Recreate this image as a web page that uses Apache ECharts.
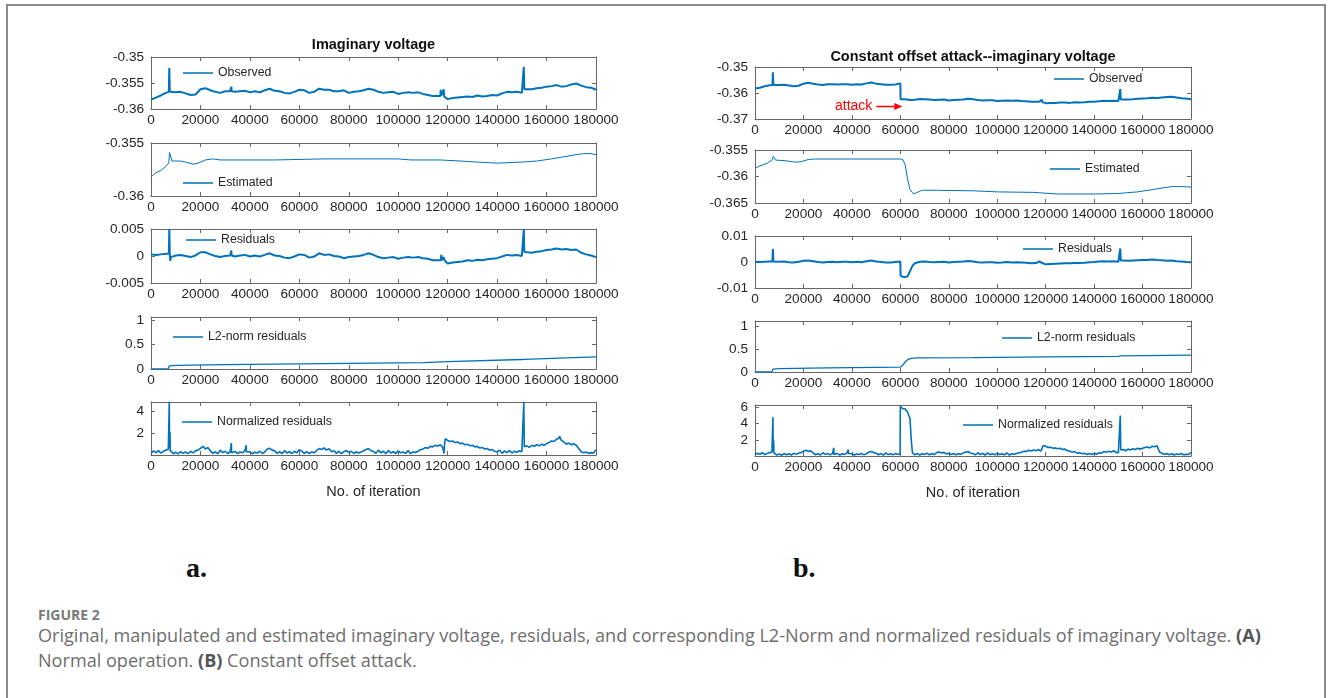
<!DOCTYPE html>
<html><head><meta charset="utf-8">
<script src="https://cdn.jsdelivr.net/npm/echarts@6/dist/echarts.min.js"></script>
<style>
html,body{margin:0;padding:0;background:#fff;width:1330px;height:698px;overflow:hidden;}
#frame{position:absolute;left:6px;top:4px;width:1320px;height:720px;border:2px solid #8c8c8c;border-bottom:none;box-sizing:border-box;}
#chart{position:absolute;left:0;top:0;width:1330px;height:540px;}
.tag{position:absolute;font-family:"Liberation Serif",serif;font-weight:bold;font-size:28px;line-height:28px;color:#111;}
#caphead{position:absolute;left:38px;top:605px;font-family:"Open Sans",Lato,sans-serif;font-weight:bold;font-size:14px;line-height:19px;color:#7a7a7a;}
#cap{position:absolute;left:38px;top:623px;font-family:"Open Sans",Lato,sans-serif;font-size:18.1px;line-height:25px;color:#6e6e6e;white-space:nowrap;}
#cap b{color:#555;}
</style></head>
<body>
<div id="chart"></div>
<div class="tag" style="left:186px;top:554px;">a.</div>
<div class="tag" style="left:793px;top:554px;">b.</div>
<div id="caphead">FIGURE 2</div>
<div id="cap">Original, manipulated and estimated imaginary voltage, residuals, and corresponding L2-Norm and normalized residuals of imaginary voltage. <b>(A)</b><br>Normal operation. <b>(B)</b> Constant offset attack.</div>
<div id="frame"></div>
<script>
// ---------------- DATA ----------------
const ITER_MAX = 180000;
const ITER_TICK = 20000;
const STEP_COARSE = 2000;   // spacing of the *_A / *_B coarse samples
const STEP_FINE = 1000;     // spacing of the normalized-residual samples

const TITLE_A = 'Imaginary voltage';
const TITLE_B = 'Constant offset attack--imaginary voltage';
const NAMES = ['Observed', 'Estimated', 'Residuals', 'L2-norm residuals', 'Normalized residuals'];

// Panel a: observed imaginary voltage (every 2000 iterations)
const observedA = [-0.3582,-0.3578,-0.3574,-0.3569,-0.3567,-0.3568,-0.3567,-0.3570,-0.3573,-0.3572,
 -0.3562,-0.3560,-0.3564,-0.3567,-0.3569,-0.3566,-0.3566,-0.3567,-0.3566,-0.3565,
 -0.3568,-0.3566,-0.3568,-0.3564,-0.3561,-0.3565,-0.3566,-0.3569,-0.3570,-0.3567,
 -0.3563,-0.3564,-0.3569,-0.3567,-0.3561,-0.3563,-0.3563,-0.3566,-0.3566,-0.3564,
 -0.3569,-0.3567,-0.3566,-0.3564,-0.3561,-0.3563,-0.3567,-0.3569,-0.3568,-0.3567,
 -0.3571,-0.3569,-0.3568,-0.3569,-0.3568,-0.3571,-0.3573,-0.3575,-0.3575,-0.3573,
 -0.3581,-0.3579,-0.3578,-0.3577,-0.3576,-0.3577,-0.3574,-0.3576,-0.3575,-0.3573,
 -0.3574,-0.3570,-0.3567,-0.3568,-0.3567,-0.3569,-0.3562,-0.3562,-0.3560,-0.3559,
 -0.3557,-0.3556,-0.3554,-0.3557,-0.3556,-0.3553,-0.3551,-0.3555,-0.3558,-0.3559,-0.3563];
const observedA_spikes = [[7200,-0.3567],[7400,-0.3521],[7600,-0.3567],
 [32400,-0.3566],[32500,-0.3557],[32600,-0.3566],
 [117000,-0.3575],[117200,-0.3563],[117400,-0.3575],[118200,-0.3574],[118400,-0.3562],[118600,-0.3576],
 [150600,-0.3569],[150800,-0.3519],[151000,-0.3562]];

const estimatedA = [[0,-0.3582],[2000,-0.3578],[4000,-0.3576],[6000,-0.3572],[7200,-0.3569],[7500,-0.3559],[8500,-0.3567],
 [12000,-0.3567],[14000,-0.3568],[17000,-0.3570],[19000,-0.3569],[22000,-0.3566],[25000,-0.3565],[28000,-0.3566],
 [50000,-0.3566],[70000,-0.3565],[100000,-0.3565],[105000,-0.3566],[117000,-0.3566],[125000,-0.3567],[132000,-0.3568],
 [140000,-0.3569],[150000,-0.3568],[156000,-0.3567],[162000,-0.3565],[167000,-0.3563],[172000,-0.3561],[175000,-0.3560],
 [178000,-0.3560],[180000,-0.3561]];

const residualsA = [0.0003,0.0002,0.0003,0.0004,-0.0002,0.0001,0.0002,0.0000,-0.0002,0.0001,
 0.0007,0.0007,0.0003,0.0000,-0.0002,0.0000,0.0001,-0.0001,0.0001,0.0002,
 -0.0001,0.0001,-0.0001,0.0002,0.0005,0.0001,0.0000,-0.0003,-0.0004,-0.0001,
 0.0003,0.0002,-0.0003,-0.0001,0.0005,0.0002,0.0003,0.0000,-0.0001,-0.0004,
 -0.0002,-0.0001,0.0000,0.0002,0.0005,0.0002,-0.0002,-0.0004,-0.0003,-0.0002,
 -0.0005,-0.0003,-0.0002,-0.0003,-0.0002,-0.0004,-0.0005,-0.0008,-0.0008,-0.0006,
 -0.0014,-0.0012,-0.0011,-0.0010,-0.0008,-0.0009,-0.0007,-0.0008,-0.0006,-0.0005,
 -0.0004,-0.0001,0.0002,0.0001,0.0002,0.0000,0.0007,0.0006,0.0008,0.0009,
 0.0011,0.0012,0.0014,0.0012,0.0013,0.0011,0.0012,0.0006,0.0003,0.0001,-0.0002];
const residualsA_spikes = [[7200,0.0004],[7400,0.0050],[7600,0.0004],[7800,-0.0009],
 [32400,0.0001],[32500,0.0010],[32600,0.0001],
 [117200,-0.0008],[117400,0.0002],[117600,-0.0008],[118400,-0.0002],[118600,-0.0007],
 [150600,0.0000],[150800,0.0050],[151000,0.0008]];

const l2normA = [[0,0],[3000,0.003],[7000,0.008],[7400,0.065],[10000,0.075],[30000,0.092],[60000,0.105],[90000,0.12],
 [110000,0.13],[120000,0.15],[150000,0.195],[151000,0.2],[165000,0.225],[180000,0.25]];

const normalizedA = [0.15,0.38,0.22,0.41,0.18,0.33,0.46,0.52,0.30,0.12,
 0.25,0.10,0.32,0.15,0.28,0.12,0.35,0.20,0.38,0.45,
 0.62,0.80,0.55,0.70,0.38,0.15,0.30,0.12,0.45,0.22,
 0.35,0.14,0.30,0.18,0.33,0.12,0.28,0.20,0.40,0.15,
 0.30,0.12,0.26,0.18,0.35,0.14,0.28,0.55,0.62,0.45,
 0.38,0.15,0.32,0.12,0.40,0.18,0.30,0.14,0.35,0.20,
 0.48,0.36,0.15,0.32,0.12,0.28,0.20,0.42,0.60,0.50,
 0.65,0.45,0.58,0.30,0.40,0.15,0.35,0.12,0.30,0.42,
 0.22,0.35,0.14,0.30,0.18,0.28,0.40,0.52,0.58,0.40,
 0.32,0.15,0.45,0.20,0.35,0.12,0.42,0.18,0.30,0.14,
 0.38,0.20,0.28,0.15,0.42,0.12,0.30,0.22,0.35,0.48,
 0.55,0.70,0.62,0.80,0.75,0.90,0.82,0.95,0.70,1.50,
 1.35,1.25,1.30,1.15,1.20,1.05,1.10,0.95,1.00,0.85,
 0.90,0.75,0.80,0.65,0.70,0.55,0.60,0.45,0.50,0.35,
 0.28,0.45,0.15,0.38,0.22,0.42,0.18,0.35,0.25,0.40,
 0.30,0.75,0.85,0.70,0.90,0.80,0.95,0.85,1.00,0.90,
 1.05,1.15,1.30,1.25,1.45,1.55,1.35,1.20,1.00,1.10,
 0.95,1.05,0.90,0.60,0.30,0.20,0.28,0.15,0.22,0.18,
 0.50];
const normalizedA_spikes = [[7200,0.6],[7400,4.9],[7500,0.7],[7700,2.1],[7800,0.4],
 [32400,0.3],[32500,1.1],[32600,0.2],[38400,0.4],[38500,0.9],[38600,0.3],
 [118400,0.7],[118500,0.15],[118700,0.9],
 [150600,0.3],[150800,4.9],[151000,0.8],[165200,1.75]];

// Panel b: constant offset attack
const observedB = [-0.3583,-0.3580,-0.3574,-0.3570,-0.3569,-0.3569,-0.3568,-0.3571,-0.3574,-0.3572,
 -0.3564,-0.3561,-0.3564,-0.3567,-0.3569,-0.3566,-0.3566,-0.3567,-0.3566,-0.3566,
 -0.3568,-0.3566,-0.3567,-0.3563,-0.3560,-0.3564,-0.3566,-0.3568,-0.3568,-0.3567,
 -0.3563,-0.3624,-0.3627,-0.3626,-0.3623,-0.3624,-0.3625,-0.3627,-0.3626,-0.3625,
 -0.3629,-0.3627,-0.3626,-0.3625,-0.3622,-0.3624,-0.3627,-0.3629,-0.3628,-0.3628,
 -0.3631,-0.3630,-0.3629,-0.3630,-0.3629,-0.3631,-0.3632,-0.3634,-0.3634,-0.3633,
 -0.3639,-0.3638,-0.3638,-0.3637,-0.3637,-0.3638,-0.3636,-0.3637,-0.3636,-0.3634,
 -0.3634,-0.3632,-0.3630,-0.3631,-0.3630,-0.3631,-0.3625,-0.3625,-0.3624,-0.3622,
 -0.3621,-0.3620,-0.3618,-0.3619,-0.3617,-0.3615,-0.3614,-0.3617,-0.3620,-0.3621,-0.3624];
const observedB_spikes = [[7200,-0.3569],[7400,-0.3520],[7600,-0.3569],
 [32400,-0.3566],[32500,-0.3559],[32600,-0.3566],[60100,-0.3624],
 [117200,-0.3634],[117400,-0.3627],[117600,-0.3634],[118400,-0.3626],[118600,-0.3635],
 [150600,-0.3631],[150800,-0.3585],[151000,-0.3625]];

const estimatedB = [[0,-0.3584],[2000,-0.3580],[5000,-0.3575],[7200,-0.3568],[7500,-0.3562],[8500,-0.3569],[12000,-0.3570],
 [17000,-0.3573],[19000,-0.3572],[22000,-0.3568],[25000,-0.3567],[40000,-0.3567],[60000,-0.3567],[61000,-0.3568],
 [62000,-0.3578],[63000,-0.3605],[64000,-0.3625],[65500,-0.3633],[67000,-0.3630],[69000,-0.3626],[75000,-0.3626],
 [90000,-0.3627],[100000,-0.3629],[115000,-0.3630],[125000,-0.3633],[140000,-0.3633],[150000,-0.3632],
 [158000,-0.3629],[165000,-0.3624],[172000,-0.3619],[176000,-0.3619],[180000,-0.3620]];

const residualsB = [0.0001,0.0000,0.0001,0.0002,-0.0002,0.0001,0.0002,-0.0001,-0.0002,0.0001,
 0.0005,0.0006,0.0003,0.0000,-0.0002,0.0000,0.0001,-0.0001,0.0001,0.0001,
 -0.0001,0.0001,-0.0001,0.0003,0.0006,0.0002,0.0000,-0.0002,-0.0002,0.0000,
 0.0002,-0.0058,-0.0035,-0.0005,0.0001,0.0002,0.0000,-0.0001,0.0000,0.0001,
 -0.0002,0.0000,0.0001,0.0002,0.0004,0.0002,-0.0001,-0.0002,-0.0001,-0.0001,
 -0.0003,-0.0002,0.0000,-0.0002,-0.0001,-0.0002,-0.0003,-0.0005,-0.0004,-0.0004,
 -0.0009,-0.0008,-0.0007,-0.0006,-0.0005,-0.0005,-0.0004,-0.0004,-0.0003,-0.0001,
 0.0000,0.0002,0.0003,0.0002,0.0003,0.0001,0.0006,0.0005,0.0006,0.0007,
 0.0008,0.0008,0.0010,0.0008,0.0007,0.0005,0.0006,0.0003,0.0002,0.0000,-0.0001];
const residualsB_spikes = [[7200,0.0002],[7400,0.0050],[7600,0.0002],[7800,-0.0004],
 [60100,-0.0052],[61000,-0.0057],[63000,-0.0055],[65000,-0.0015],
 [117400,0.0002],[117600,-0.0004],[118400,-0.0003],[118600,-0.0010],
 [150600,0.0001],[150800,0.0052],[151000,0.0006]];

const l2normB = [[0,0],[3000,0.003],[7000,0.008],[7400,0.065],[10000,0.075],[30000,0.09],[60000,0.105],[61000,0.15],
 [62000,0.22],[63000,0.27],[64500,0.3],[67000,0.31],[90000,0.315],[120000,0.33],[150000,0.345],[151000,0.352],[180000,0.37]];

const normalizedB = [0.15,0.35,0.20,0.40,0.18,0.30,0.42,0.48,0.30,0.12,
 0.25,0.10,0.30,0.15,0.28,0.12,0.33,0.20,0.36,0.42,
 0.58,0.72,0.55,0.65,0.35,0.15,0.30,0.12,0.40,0.20,
 0.32,0.14,0.30,0.18,0.30,0.12,0.28,0.20,0.36,0.15,
 0.28,0.12,0.25,0.18,0.32,0.14,0.28,0.50,0.55,0.42,
 0.35,0.15,0.30,0.12,0.38,0.18,0.28,0.14,0.32,0.20,
 6.10,5.85,5.80,5.40,4.60,0.40,0.15,0.30,0.12,0.28,
 0.20,0.35,0.14,0.30,0.18,0.42,0.50,0.38,0.45,0.25,
 0.35,0.18,0.30,0.15,0.28,0.20,0.38,0.48,0.52,0.35,
 0.30,0.14,0.40,0.18,0.32,0.12,0.38,0.16,0.28,0.14,
 0.35,0.18,0.26,0.14,0.38,0.12,0.28,0.20,0.32,0.40,
 0.45,0.60,0.55,0.70,0.62,0.75,0.65,0.80,0.60,1.30,
 1.20,1.05,1.10,0.95,1.00,0.90,0.95,0.80,0.85,0.65,
 0.60,0.45,0.55,0.35,0.42,0.28,0.35,0.20,0.30,0.18,
 0.30,0.22,0.40,0.35,0.55,0.45,0.60,0.50,0.65,0.45,
 0.40,0.75,0.80,0.65,0.85,0.75,0.90,0.80,0.95,0.85,
 0.95,1.05,1.10,1.00,1.20,1.15,1.25,0.50,0.35,0.20,
 0.30,0.15,0.28,0.12,0.25,0.18,0.30,0.14,0.22,0.18,
 0.45];
const normalizedB_spikes = [[7200,0.6],[7400,4.8],[7500,0.6],[7700,1.9],[7800,0.4],
 [32400,0.3],[32500,1.0],[32600,0.2],[38400,0.3],[38500,0.8],[38600,0.3],
 [59900,0.25],[60100,6.2],[64500,2.0],
 [150600,0.3],[150800,5.0],[151000,0.8]];

// ---------------- BUILD ----------------
function sampled(step, values, extras) {
  const pts = values.map((v, i) => [i * step, v]);
  (extras || []).forEach(p => pts.push(p));
  pts.sort((a, b) => a[0] - b[0]);
  return pts;
}
const seriesData = [
  sampled(STEP_COARSE, observedA, observedA_spikes),
  estimatedA,
  sampled(STEP_COARSE, residualsA, residualsA_spikes),
  l2normA,
  sampled(STEP_FINE, normalizedA, normalizedA_spikes),
  sampled(STEP_COARSE, observedB, observedB_spikes),
  estimatedB,
  sampled(STEP_COARSE, residualsB, residualsB_spikes),
  l2normB,
  sampled(STEP_FINE, normalizedB, normalizedB_spikes)
];
const lineWidths = [2, 1, 2, 1.3, 1.6, 2, 1, 2, 1.3, 1.6];

const grids = [
  {left:151, top:57,  width:445, height:52},
  {left:151, top:143, width:445, height:53},
  {left:151, top:229, width:445, height:54},
  {left:151, top:317, width:445, height:52},
  {left:151, top:402, width:445, height:53},
  {left:755, top:67,  width:436, height:52},
  {left:755, top:150, width:436, height:53},
  {left:755, top:236, width:436, height:52},
  {left:755, top:321, width:436, height:51},
  {left:755, top:405, width:436, height:51}
];
const yScales = [
  {min:-0.36, max:-0.35, interval:0.005},
  {min:-0.36, max:-0.355, interval:0.005},
  {min:-0.005, max:0.005, interval:0.005},
  {min:0, max:1.07, interval:0.5, hideMax:true},
  {min:0, max:4.9, interval:2, hideMin:true, hideMax:true},
  {min:-0.37, max:-0.35, interval:0.01},
  {min:-0.365, max:-0.355, interval:0.005},
  {min:-0.01, max:0.01, interval:0.01},
  {min:0, max:1.12, interval:0.5, hideMax:true},
  {min:0, max:6.3, interval:2, hideMin:true, hideMax:true}
];
const legendPos = [
  [183, 72], [183, 182], [186, 239], [173, 336], [182, 421],
  [1054, 78], [1050, 168], [1023, 248], [1002, 337], [963, 424]
];

const FONT = '"Liberation Sans", Arial, Helvetica, sans-serif';
const TXT = '#262626';
const AXC = '#666666';
const LINEC = '#0072BD';
const fmt = v => String(parseFloat(Number(v).toFixed(6)));

const xAxes = [], yAxes = [], series = [], legends = [];
grids.forEach((g, i) => {
  const last = (i === 4 || i === 9);
  xAxes.push({
    type:'value', gridIndex:i, min:0, max:ITER_MAX, interval:ITER_TICK, position:'bottom',
    axisLine:{show:true, onZero:false, lineStyle:{color:AXC, width:1}},
    axisTick:{show:true, inside:true, length:4, lineStyle:{color:AXC}},
    axisLabel:{show:true, margin:4, color:TXT, fontFamily:FONT, fontSize:13.6, formatter:fmt, hideOverlap:false},
    splitLine:{show:false},
    name: last ? 'No. of iteration' : '', nameLocation:'middle', nameGap:29,
    nameTextStyle:{color:TXT, fontFamily:FONT, fontSize:14.5}
  });
});
grids.forEach((g, i) => {
  xAxes.push({
    type:'value', gridIndex:i, min:0, max:ITER_MAX, interval:ITER_TICK, position:'top',
    axisLine:{show:true, onZero:false, lineStyle:{color:AXC, width:1}},
    axisTick:{show:true, inside:true, length:4, lineStyle:{color:AXC}},
    axisLabel:{show:false}, splitLine:{show:false}
  });
});
grids.forEach((g, i) => {
  const s = yScales[i];
  yAxes.push({
    type:'value', gridIndex:i, min:s.min, max:s.max, interval:s.interval, position:'left',
    axisLine:{show:true, onZero:false, lineStyle:{color:AXC, width:1}},
    axisTick:{show:true, inside:true, length:4, lineStyle:{color:AXC}},
    axisLabel:{show:true, margin:7, color:TXT, fontFamily:FONT, fontSize:13.6, formatter:fmt,
      showMinLabel: s.hideMin ? false : true, showMaxLabel: s.hideMax ? false : true},
    splitLine:{show:false}
  });
});
grids.forEach((g, i) => {
  const s = yScales[i];
  yAxes.push({
    type:'value', gridIndex:i, min:s.min, max:s.max, interval:s.interval, position:'right',
    axisLine:{show:true, onZero:false, lineStyle:{color:AXC, width:1}},
    axisTick:{show:true, inside:true, length:4, lineStyle:{color:AXC}},
    axisLabel:{show:false}, splitLine:{show:false}
  });
});
grids.forEach((g, i) => {
  const name = NAMES[i % 5];
  series.push({
    type:'line', name:name, xAxisIndex:i, yAxisIndex:i, data:seriesData[i],
    symbol:'none', showSymbol:false, smooth:false, animation:false, silent:true,
    lineStyle:{color:LINEC, width:lineWidths[i]}, itemStyle:{color:LINEC}
  });
  legends.push({
    data:[name], left:legendPos[i][0], top:legendPos[i][1] - 5, orient:'horizontal',
    icon:'rect', itemWidth:30, itemHeight:1.5, itemGap:5, padding:0, selectedMode:false,
    itemStyle:{color:LINEC, borderWidth:0},
    textStyle:{color:TXT, fontFamily:FONT, fontSize:12.3}
  });
});

const chart = echarts.init(document.getElementById('chart'), null, {renderer:'canvas'});
chart.setOption({
  backgroundColor:'transparent',
  animation:false,
  title:[
    {text:TITLE_A, left:373.5, top:37, textAlign:'center', padding:0,
     textStyle:{fontFamily:FONT, fontSize:14.5, fontWeight:'bold', color:'#111'}},
    {text:TITLE_B, left:973, top:49, textAlign:'center', padding:0,
     textStyle:{fontFamily:FONT, fontSize:14.5, fontWeight:'bold', color:'#111'}}
  ],
  grid: grids.map(g => Object.assign({containLabel:false, outerBoundsMode:'none'}, g)),
  xAxis:xAxes, yAxis:yAxes, legend:legends, series:series
});

// "attack" annotation pointing at the attack onset in panel b (observed)
const tip = chart.convertToPixel({xAxisIndex:5, yAxisIndex:5}, [60000, -0.3652]);
const tx = tip[0] + 2, ty = tip[1];
chart.setOption({
  graphic:[
    {type:'line', shape:{x1:tx - 26, y1:ty, x2:tx - 6, y2:ty}, style:{stroke:'#ff0000', lineWidth:1.5}, silent:true},
    {type:'polygon', shape:{points:[[tx, ty], [tx - 8, ty - 3.5], [tx - 8, ty + 3.5]]}, style:{fill:'#ff0000'}, silent:true},
    {type:'text', x:tx - 30, y:ty, style:{text:'attack', fill:'#ff0000', font:'14px "Liberation Sans", Arial, sans-serif', textAlign:'right', textVerticalAlign:'middle'}, silent:true}
  ]
});
</script>
</body></html>
